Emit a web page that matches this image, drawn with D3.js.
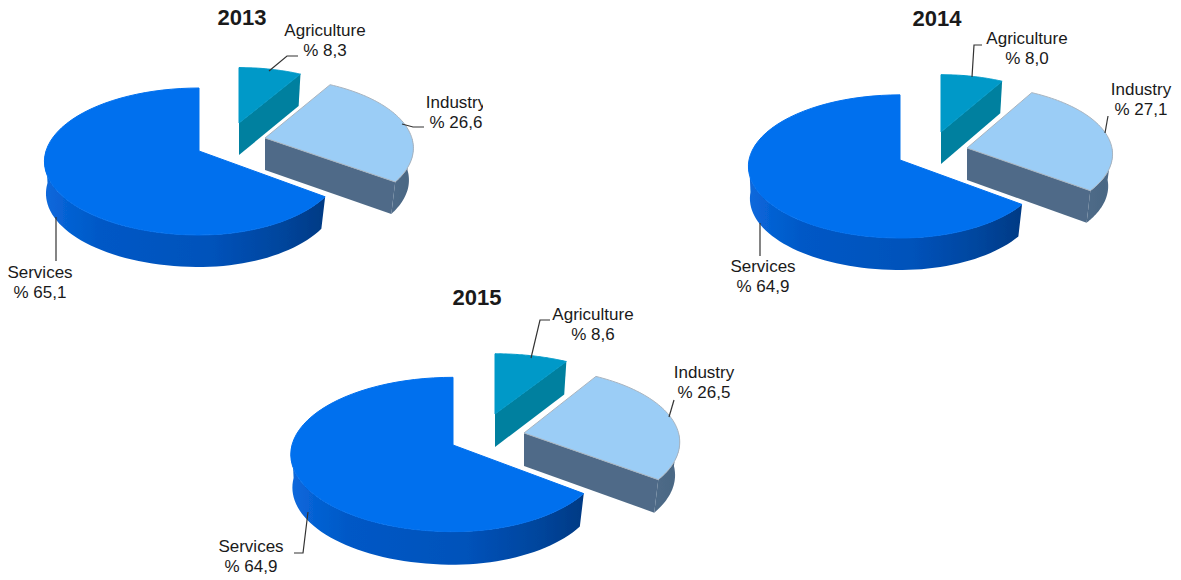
<!DOCTYPE html>
<html>
<head>
<meta charset="utf-8">
<script src="https://cdn.jsdelivr.net/npm/d3@7"></script>
<style>
    html, body { margin: 0; padding: 0; background: #fff; }
    svg { display: block; }
    text { font-family: "Liberation Sans", Arial, sans-serif; fill: #1a1a1a; }
</style>
</head>
<body>
<div id="chart"></div>
<script>
const width = 1181;
const height = 580;

// Data
const years = ["2013", "2014", "2015"];
const sectors = ["Agriculture", "Industry", "Services"];
const values2013 = [8.3, 26.6, 65.1];
const values2014 = [8.0, 27.1, 64.9];
const values2015 = [8.6, 26.5, 64.9];
const valueLabels2013 = ["8,3", "26,6", "65,1"];
const valueLabels2014 = ["8,0", "27,1", "64,9"];
const valueLabels2015 = ["8,6", "26,5", "64,9"];

// Layout of each pie, k = perspective
// tips: x, y, size, squeeze of the right hand side
const layouts = [
    {
        values: values2013, valueLabels: valueLabels2013,
        rx: 153, ry: 72, k: 0.143, depth: 32,
        tips: [[239, 123, 0.88, 1.03], [265, 138, 0.96, 1], [199, 151, 1, 0.93]],
        title: [242, 25],
        labels: [[325, 36], [456, 108], [40, 278]],
        leaders: [[[269, 71], [287, 56], [298, 56]], [[402, 124], [413, 127], [424, 127]], [[56, 217], [56, 261]]],
        clipRight: 483
    },
    {
        values: values2014, valueLabels: valueLabels2014,
        rx: 151, ry: 71, k: 0.09, depth: 32,
        tips: [[941, 132, 0.88, 1.03], [967, 148, 0.96, 1], [900, 160, 1, 0.95]],
        title: [937, 26],
        labels: [[1027, 44], [1141, 95], [763, 272]],
        leaders: [[[972, 77], [974, 45], [982, 45]], [[1105, 133], [1108, 116]], [[760, 223], [760, 256]]],
        clipRight: width
    },
    {
        values: values2015, valueLabels: valueLabels2015,
        rx: 161, ry: 76, k: 0.123, depth: 33,
        tips: [[495, 414, 0.89, 1.07], [524, 433, 0.96, 1], [453, 445, 1, 0.935]],
        title: [477, 305],
        labels: [[593, 320], [704, 378], [251, 552]],
        leaders: [[[531, 358], [540, 320], [550, 320]], [[669, 417], [674, 400]], [[308, 512], [303, 553], [294, 553]]],
        clipRight: width
    }
];

const topColors = ["#0499c8", "#9bcdf6", "#0270ee"];
const topStrokes = ["#0499c8", "#a9b4bf", "#0270ee"];
const sideFills = ["#04809f", "url(#sideIndustry)", "url(#sideServices)"];
const bottomScaleRight = 0.97;
const bottomScaleLeft = 0.99;

const svg = d3.select("#chart")
    .append("svg")
    .attr("width", width)
    .attr("height", height);

const defs = svg.append("defs");

let addGradient = function (id, stops) {
    defs.append("linearGradient")
        .attr("id", id)
        .selectAll("stop")
        .data(stops)
        .join("stop")
        .attr("offset", d => d[0])
        .attr("stop-color", d => d[1]);
}
addGradient("sideServices", [[0, "#0a68dc"], [0.2, "#0058c6"], [0.6, "#0052ba"], [0.85, "#00459c"], [1, "#003a84"]]);
addGradient("sideIndustry", [[0, "#4f6b88"], [0.7, "#4a6784"], [1, "#55718e"]]);

defs.append("filter")
    .attr("id", "soft")
    .append("feGaussianBlur")
    .attr("stdDeviation", 0.6);

const pie = d3.pie().sort(null).value(d => d);
const line = d3.line();

layouts.forEach(function (c, i) {
    const g = svg.append("g");
    const slices = pie(c.values);

    // point of the rim at some angle, seen through the perspective
    let project = function (a, tip) {
        const den = 1 + c.k * Math.cos(a);
        const sx = Math.sin(a) > 0 ? tip[3] : 1;
        return [
            tip[0] + tip[2] * sx * c.rx * Math.sin(a) / den,
            tip[1] - tip[2] * c.ry * Math.cos(a) / den
        ];
    }
    let rim = function (a0, a1, tip) {
        const n = 60;
        return d3.range(n + 1).map(j => project(a0 + (a1 - a0) * j / n, tip));
    }
    // the underside is a bit further away so it comes out narrower
    let down = function (points, tip) {
        return points.map(function (p) {
            const s = p[0] > tip[0] ? bottomScaleRight : bottomScaleLeft;
            return [tip[0] + (p[0] - tip[0]) * s, p[1] + c.depth];
        }).reverse();
    }

    const pies = g.append("g").attr("filter", "url(#soft)");

    slices.forEach(function (s, j) {
        const tip = c.tips[j];
        const arcPoints = rim(s.startAngle, s.endAngle, tip);
        const apex = [tip[0], tip[1]];

        // front wall, only the part of the rim that faces the viewer
        const a0 = Math.max(s.startAngle, Math.PI / 2);
        const a1 = Math.min(s.endAngle, Math.PI * 1.5);
        if (a1 > a0) {
            const wall = rim(a0, a1, tip);
            pies.append("path")
                .attr("d", line(wall.concat(down(wall, tip))) + "Z")
                .attr("fill", sideFills[j]);
        }

        // cut face on the clockwise side of the small slices
        if (j < 2) {
            const edge = [apex, arcPoints[arcPoints.length - 1]];
            pies.append("path")
                .attr("d", line(edge.concat(down(edge, tip))) + "Z")
                .attr("fill", j === 0 ? "#04809f" : "#4f6b88");
        }

        pies.append("path")
            .attr("d", line([apex].concat(arcPoints)) + "Z")
            .attr("fill", topColors[j])
            .attr("stroke", topStrokes[j])
            .attr("stroke-width", 1);
    });

    g.append("text")
        .attr("x", c.title[0])
        .attr("y", c.title[1])
        .attr("text-anchor", "middle")
        .style("font-size", "22px")
        .style("font-weight", "bold")
        .text(years[i]);

    g.selectAll("path.leader")
        .data(c.leaders)
        .join("path")
        .attr("class", "leader")
        .attr("d", d => line(d))
        .attr("fill", "none")
        .attr("stroke", "#333")
        .attr("stroke-width", 1.2);

    const clipId = "clip" + years[i];
    defs.append("clipPath")
        .attr("id", clipId)
        .append("rect")
        .attr("x", 0)
        .attr("y", 0)
        .attr("width", c.clipRight)
        .attr("height", height);

    const labels = g.append("g").attr("clip-path", "url(#" + clipId + ")");
    sectors.forEach(function (name, j) {
        const lab = labels.append("text")
            .attr("text-anchor", "middle")
            .style("font-size", "17px");
        lab.append("tspan")
            .attr("x", c.labels[j][0])
            .attr("y", c.labels[j][1])
            .text(name);
        lab.append("tspan")
            .attr("x", c.labels[j][0])
            .attr("y", c.labels[j][1] + 20)
            .text("% " + c.valueLabels[j]);
    });
});
</script>
</body>
</html>
